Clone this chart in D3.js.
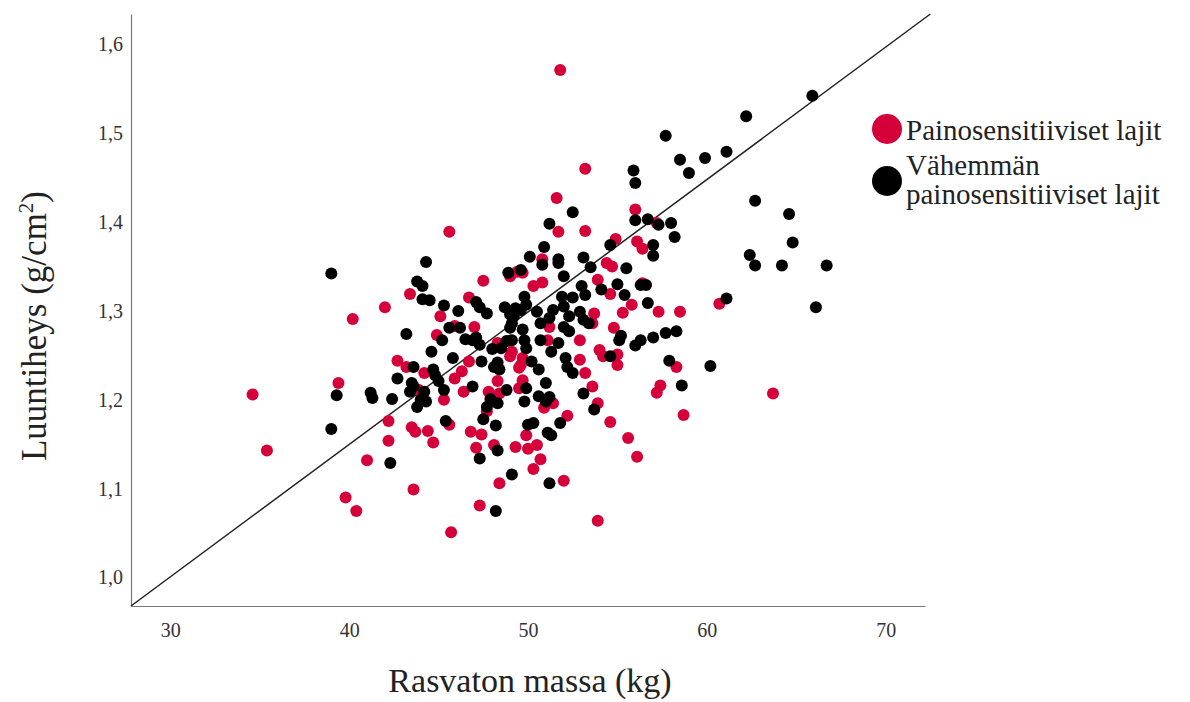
<!DOCTYPE html>
<html>
<head>
<meta charset="utf-8">
<script src="https://cdn.jsdelivr.net/npm/d3@7"></script>
<style>
  body { margin: 0; background: #fff; }
  svg text { font-family: "Liberation Serif", "Times New Roman", serif; }
</style>
</head>
<body>
<script>
// red = painosensitiiviset lajit, black = vähemmän painosensitiiviset
let redX = [51.8, 34.6, 35.4, 39.8, 40.4, 41.0, 39.4, 40.2, 42.0, 43.4, 42.7, 43.2, 43.9, 42.2, 43.5, 43.7,
    42.2, 43.6, 45.6, 49.0, 49.4, 47.5, 46.7, 45.1, 45.9, 47.0, 44.9, 48.3, 49.0, 46.7, 49.5, 44.2,
    46.3, 45.9, 48.3, 45.3, 46.4, 47.8, 48.4, 47.7, 45.6, 44.4, 44.7, 46.8, 47.4, 47.1, 48.1, 49.3,
    48.4, 47.3, 45.7, 51.6, 51.7, 53.2, 54.9, 50.8, 54.4, 49.7, 53.9, 50.3, 50.8, 54.6, 53.7, 51.2,
    53.6, 54.8, 51.1, 52.9, 54.0, 54.2, 55.0, 52.9, 49.6, 49.7, 49.1, 53.2, 49.7, 49.5, 53.6, 51.4,
    50.9, 53.9, 54.6, 52.2, 49.9, 50.0, 50.5, 50.7, 50.3, 52.0, 53.2, 56.0, 57.2, 56.1, 56.4, 54.7,
    56.4, 55.8, 55.3, 57.3, 58.5, 60.7, 55.0, 58.3, 57.4, 57.2, 58.7, 63.7, 53.9, 55.6, 56.1]
let redY = [1.571, 1.206, 1.143, 1.090, 1.075, 1.132, 1.219, 1.291, 1.304, 1.319, 1.244, 1.237, 1.211, 1.176, 1.169, 1.164,
    1.154, 1.099, 1.389, 1.339, 1.344, 1.334, 1.315, 1.294, 1.283, 1.282, 1.273, 1.264, 1.249, 1.243, 1.236, 1.230,
    1.232, 1.224, 1.221, 1.200, 1.209, 1.209, 1.207, 1.187, 1.172, 1.165, 1.152, 1.164, 1.161, 1.146, 1.149, 1.147,
    1.106, 1.081, 1.051, 1.427, 1.389, 1.390, 1.381, 1.358, 1.354, 1.343, 1.335, 1.328, 1.332, 1.319, 1.297, 1.282,
    1.286, 1.281, 1.267, 1.267, 1.256, 1.249, 1.239, 1.245, 1.239, 1.247, 1.254, 1.230, 1.222, 1.213, 1.215, 1.196,
    1.191, 1.196, 1.175, 1.182, 1.160, 1.145, 1.149, 1.133, 1.122, 1.109, 1.460, 1.414, 1.399, 1.378, 1.370, 1.350,
    1.331, 1.307, 1.298, 1.299, 1.299, 1.308, 1.251, 1.237, 1.216, 1.208, 1.183, 1.207, 1.064, 1.157, 1.136]

let blackX = [39.0, 43.8, 44.1, 43.2, 43.6, 42.7, 43.5, 39.3, 41.2, 41.3, 42.4, 43.4, 43.8, 39.0, 42.3, 44.3,
    48.9, 44.1, 44.5, 47.1, 47.3, 47.7, 45.3, 46.1, 48.7, 49.0, 49.3, 45.6, 46.2, 45.2, 46.5, 46.9,
    47.1, 47.3, 49.0, 48.8, 49.1, 48.0, 48.5, 44.6, 45.8, 47.4, 48.1, 48.3, 48.4, 44.7, 44.8, 45.0,
    45.3, 43.6, 44.2, 44.0, 44.3, 46.9, 48.8, 47.9, 48.3, 47.7, 45.4, 47.5, 48.2, 48.3, 47.3, 49.1,
    48.2, 52.5, 51.2, 50.9, 54.6, 50.1, 50.8, 51.7, 51.7, 53.1, 53.5, 49.6, 52.0, 53.0, 55.0, 54.1,
    49.8, 51.9, 52.5, 53.2, 49.9, 49.6, 49.2, 49.1, 50.5, 50.7, 51.4, 52.0, 52.9, 51.2, 52.3, 52.0,
    52.3, 53.1, 53.4, 49.7, 49.8, 49.9, 50.7, 51.7, 51.3, 54.6, 52.1, 52.2, 50.2, 50.6, 52.5, 49.9,
    51.0, 53.1, 49.8, 50.6, 51.0, 51.2, 53.7, 51.8, 50.0, 50.3, 51.1, 51.3, 51.2, 57.7, 58.5, 59.0,
    59.9, 55.9, 56.0, 56.0, 56.7, 57.3, 58.0, 58.2, 57.0, 57.0, 55.5, 56.3, 56.6, 55.4, 56.7, 55.2,
    55.1, 56.3, 56.0, 57.0, 57.7, 58.3, 57.9, 60.2, 58.6, 65.9, 62.2, 61.1, 62.7, 64.6, 64.8, 62.4,
    62.7, 64.2, 66.7, 61.1, 66.1]
let blackY = [1.342, 1.333, 1.313, 1.274, 1.237, 1.224, 1.219, 1.205, 1.208, 1.202, 1.201, 1.209, 1.192, 1.167, 1.129, 1.355,
    1.343, 1.328, 1.312, 1.310, 1.304, 1.297, 1.306, 1.300, 1.304, 1.296, 1.303, 1.281, 1.281, 1.267, 1.268, 1.267,
    1.270, 1.262, 1.281, 1.266, 1.267, 1.257, 1.258, 1.254, 1.247, 1.243, 1.237, 1.242, 1.234, 1.234, 1.228, 1.221,
    1.211, 1.215, 1.209, 1.200, 1.198, 1.215, 1.211, 1.201, 1.196, 1.192, 1.176, 1.178, 1.171, 1.143, 1.134, 1.116,
    1.075, 1.411, 1.398, 1.372, 1.374, 1.361, 1.352, 1.358, 1.354, 1.360, 1.349, 1.346, 1.339, 1.328, 1.330, 1.324,
    1.316, 1.316, 1.315, 1.318, 1.307, 1.301, 1.294, 1.286, 1.299, 1.286, 1.301, 1.305, 1.299, 1.292, 1.294, 1.282,
    1.277, 1.290, 1.286, 1.279, 1.267, 1.258, 1.267, 1.264, 1.254, 1.249, 1.247, 1.237, 1.243, 1.234, 1.230, 1.213,
    1.219, 1.207, 1.198, 1.204, 1.198, 1.203, 1.189, 1.174, 1.172, 1.174, 1.163, 1.160, 1.106, 1.497, 1.470, 1.455,
    1.472, 1.458, 1.444, 1.402, 1.403, 1.397, 1.399, 1.383, 1.374, 1.362, 1.348, 1.329, 1.329, 1.318, 1.309, 1.272,
    1.267, 1.267, 1.261, 1.270, 1.275, 1.277, 1.244, 1.238, 1.216, 1.542, 1.519, 1.479, 1.424, 1.409, 1.377, 1.363,
    1.351, 1.351, 1.351, 1.314, 1.304]

// reference line corner to corner
let lineX = [27.8, 72.5]
let lineY = [0.968, 1.634]

let xTicks = [30, 40, 50, 60, 70]
let yTicks = [1.0, 1.1, 1.2, 1.3, 1.4, 1.5, 1.6]

let legendLabels = [["Painosensitiiviset lajit"], ["Vähemmän", "painosensitiiviset lajit"]]
let colors = ["#d5003a", "#000000"]

let width = 1190
let height = 702

let svg = d3.select("body")
            .append("svg")
            .attr("width", width)
            .attr("height", height)

let xScale = d3.scaleLinear()
                .domain([27.8, 72.2])
                .range([131, 925])

let yScale = d3.scaleLinear()
                .domain([0.968, 1.634])
                .range([606, 14])

let fi = d3.formatLocale({decimal: ",", thousands: " ", grouping: [3], currency: ["", " €"]})

let xAxis = d3.axisBottom(xScale)
                .tickValues(xTicks)
                .tickSize(0)
                .tickPadding(17)
                .tickFormat(d3.format("d"))

let yAxis = d3.axisLeft(yScale)
                .tickValues(yTicks)
                .tickSize(0)
                .tickPadding(8)
                .tickFormat(fi.format(".1f"))

let gx = svg.append("g")
            .attr("transform", "translate(0," + 606 + ")")
            .call(xAxis)
let gy = svg.append("g")
            .attr("transform", "translate(131,0)")
            .call(yAxis)

svg.selectAll(".tick text")
    .style("font-size", "20px")
    .attr("fill", "#333")
svg.selectAll(".domain")
    .attr("stroke", "#777")
    .attr("stroke-width", 1.2)

// diagonal
svg.append("line")
    .attr("x1", xScale(lineX[0]))
    .attr("y1", yScale(lineY[0]))
    .attr("x2", xScale(lineX[1]))
    .attr("y2", yScale(lineY[1]))
    .attr("stroke", "#222")
    .attr("stroke-width", 1.5)

let drawDots = (xs, ys, color) => {
    svg.append("g")
        .selectAll("circle")
        .data(xs)
        .enter()
        .append("circle")
        .attr("cx", (d) => xScale(d))
        .attr("cy", (d, i) => yScale(ys[i]))
        .attr("r", 6)
        .attr("fill", color)
}
drawDots(redX, redY, colors[0])
drawDots(blackX, blackY, colors[1])

// axis titles
svg.append("text")
    .attr("x", 530)
    .attr("y", 692)
    .attr("text-anchor", "middle")
    .style("font-size", "34px")
    .attr("fill", "#222")
    .text("Rasvaton massa (kg)")

let yTitle = svg.append("text")
    .attr("transform", "translate(46,326) rotate(-90)")
    .attr("text-anchor", "middle")
    .style("font-size", "35px")
    .attr("fill", "#222")
yTitle.append("tspan").text("Luuntiheys (g/cm")
yTitle.append("tspan").attr("dy", -13).style("font-size", "21px").text("2")
yTitle.append("tspan").attr("dy", 13).text(")")

// legend
let legendY = [129, 181]
legendLabels.forEach((lines, i) => {
    svg.append("circle")
        .attr("cx", 887)
        .attr("cy", legendY[i])
        .attr("r", 15)
        .attr("fill", colors[i])
    let t = svg.append("text")
        .attr("x", 906)
        .attr("y", i == 0 ? 140 : 175)
        .style("font-size", "29px")
        .attr("fill", "#222")
    lines.forEach((s, j) => {
        t.append("tspan")
            .attr("x", 906)
            .attr("dy", j == 0 ? 0 : 29)
            .text(s)
    })
})
</script>
</body>
</html>
